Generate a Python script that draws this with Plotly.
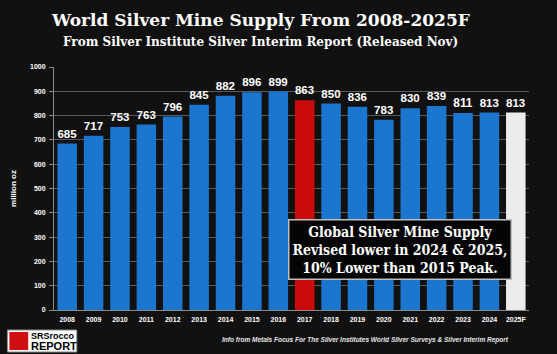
import plotly.graph_objects as go

years = ["2008","2009","2010","2011","2012","2013","2014","2015","2016","2017",
         "2018","2019","2020","2021","2022","2023","2024","2025F"]
supply = [685,717,753,763,796,845,882,896,899,863,850,836,783,830,839,811,813,813]
bar_colors = ["#1a76cf"]*9 + ["#cc0c0c"] + ["#1a76cf"]*7 + ["#ececec"]
y_ticks = [0,100,200,300,400,500,600,700,800,900,1000]

fig = go.Figure()
fig.add_trace(go.Bar(
    x=years, y=supply, marker=dict(color=bar_colors, line=dict(width=0)),
    width=0.74,
    text=[str(v) for v in supply], textposition="outside",
    textfont=dict(family="Liberation Sans", size=12, color="white", weight="bold"),
    cliponaxis=False, showlegend=False,
))

fig.update_layout(
    width=557, height=354,
    margin=dict(l=50, r=28, t=67, b=44),
    paper_bgcolor="#111111", plot_bgcolor="#111111",
    bargap=0.26,
    xaxis=dict(
        type="category", range=[-0.5, 17.5], showgrid=False,
        showline=True, linecolor="#8a8a8a", linewidth=1,
        tickfont=dict(family="Liberation Sans", size=7, color="white", weight="bold"),
        ticks="", ticklabelstandoff=3,
    ),
    yaxis=dict(
        range=[0, 1000], tickvals=y_ticks, showgrid=True, gridcolor="#5a5a5a", gridwidth=1,
        showline=True, linecolor="#8a8a8a", linewidth=1, zeroline=False,
        tickfont=dict(family="Liberation Sans", size=7, color="white", weight="bold"),
        ticks="outside", ticklen=4, tickcolor="#8a8a8a", ticklabelstandoff=2,
        title=dict(text="million oz", font=dict(family="Liberation Sans", size=8,
                                                 color="white", weight="bold"), standoff=12),
    ),
    font=dict(family="Liberation Sans", color="white"),
)

# titles (centred on page x ~ 258)
cx = (258 - 50) / 479
fig.add_annotation(text="World Silver Mine Supply From 2008-2025F",
                   xref="paper", yref="paper", x=cx, y=1, xanchor="center", yanchor="middle",
                   yshift=67-20,
                   font=dict(family="DejaVu Serif", size=17, color="white", weight="bold"),
                   showarrow=False)
fig.add_annotation(text="From Silver Institute Silver Interim Report (Released Nov)",
                   xref="paper", yref="paper", x=cx, y=1, xanchor="center", yanchor="middle",
                   yshift=67-42,
                   font=dict(family="DejaVu Serif", size=12, color="white", weight="bold"),
                   showarrow=False)

# call-out box
fig.add_annotation(text="Global Silver Mine Supply<br>Revised lower in 2024 &amp; 2025,<br>10% Lower than 2015 Peak.",
                   xref="x", yref="y", x=12.63, y=249, xanchor="center", yanchor="middle",
                   font=dict(family="DejaVu Serif Condensed", size=14, color="white", weight="bold"),
                   bgcolor="#050505", bordercolor="#bdbdbd", borderwidth=1.5, borderpad=3,
                   showarrow=False)

# footer source
fig.add_annotation(text="<i>Info from Metals Focus For The Silver Institutes World Silver Surveys &amp; Silver Interim Report</i>",
                   xref="paper", yref="paper", x=(364.5 - 50) / 479, y=0, xanchor="center", yanchor="middle",
                   yshift=-30,
                   font=dict(family="Liberation Sans", size=6.5, color="#e6e6e6", weight="bold"),
                   showarrow=False)

# logo
fig.add_shape(type="rect", xref="paper", yref="paper",
              x0=-47/479, x1=23/479, y0=-44/243 + 2/243, y1=-44/243 + 24/243,
              fillcolor="white", line=dict(color="#888", width=1))
fig.add_shape(type="rect", xref="paper", yref="paper",
              x0=-45/479, x1=-26/479, y0=-44/243 + 4/243, y1=-44/243 + 22/243,
              fillcolor="#d01010", line=dict(width=0))
fig.add_annotation(text="SRSrocco", xref="paper", yref="paper", x=-25/479, y=-44/243 + 18/243,
                   xanchor="left", yanchor="middle", showarrow=False,
                   font=dict(family="Liberation Sans", size=9, color="black", weight="bold"))
fig.add_annotation(text="REPORT", xref="paper", yref="paper", x=-25/479, y=-44/243 + 8/243,
                   xanchor="left", yanchor="middle", showarrow=False,
                   font=dict(family="Liberation Sans", size=11, color="black", weight="bold"))

fig.write_html("out.html")
